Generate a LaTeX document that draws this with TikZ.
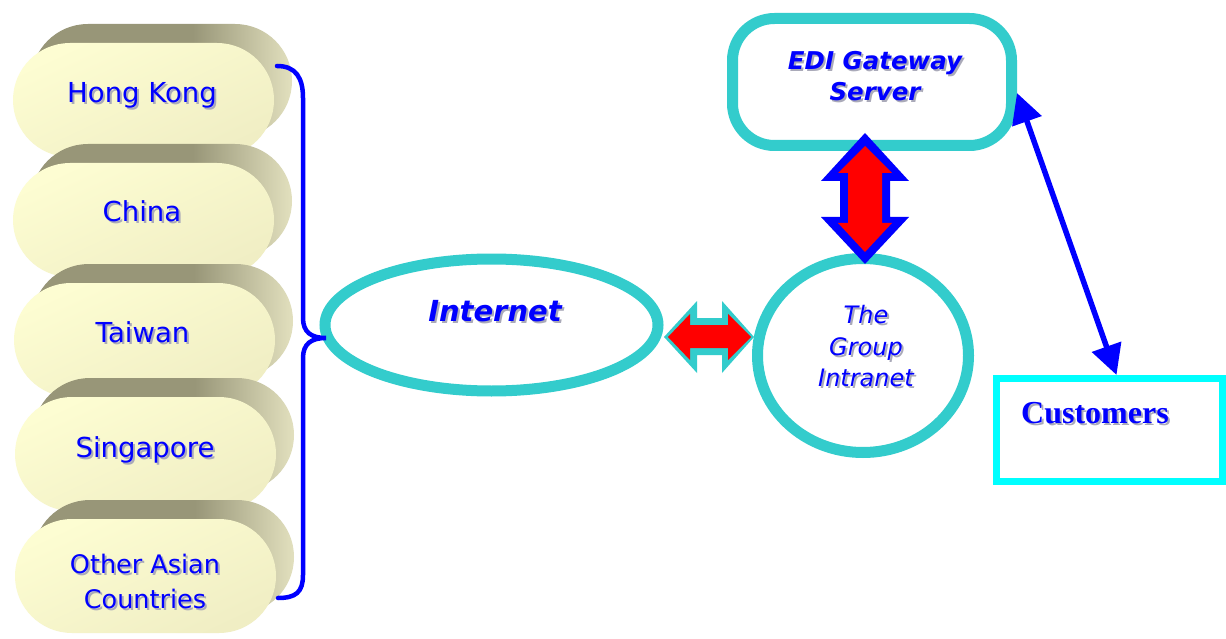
\documentclass[tikz,border=0pt]{standalone}
\usepackage{fontspec}
\usetikzlibrary{shapes.geometric,shapes.misc,arrows.meta,calc}
\newfontfamily\tah{DejaVu Sans}
\newfontfamily\custfont{Liberation Serif}
\definecolor{teal1}{RGB}{51,204,204}
\definecolor{aqua}{RGB}{0,255,255}
\definecolor{pbdark}{RGB}{152,150,120}
\definecolor{pblight}{RGB}{226,224,190}
\definecolor{pfA}{RGB}{253,253,210}
\definecolor{pfB}{RGB}{240,238,196}
\definecolor{tshadow}{RGB}{170,170,185}
\definecolor{tblue}{RGB}{0,0,255}
\definecolor{tred}{RGB}{255,0,0}
\pgfdeclarehorizontalshading{pillback}{100bp}{color(0bp)=(pbdark); color(25bp)=(pbdark); color(56bp)=(pbdark); color(75bp)=(pblight); color(100bp)=(pblight)}
\newcommand\txtshadow[1]{\leavevmode\rlap{\kern2pt\raisebox{-2pt}{\textcolor{tshadow}{#1}}}#1}
\begin{document}
\begin{tikzpicture}[x=1pt,y=-1pt,
  pillfront/.style={rounded rectangle, minimum width=261pt, minimum height=114pt, inner sep=0pt,
    top color=pfA, bottom color=pfB, shading angle=25},
  pillback/.style={rounded rectangle, minimum width=261pt, minimum height=114pt, inner sep=0pt,
    shade, shading=pillback},
  pilltext/.style={font=\tah\fontsize{27.5}{33}\selectfont, text=tblue, inner sep=0pt, anchor=base},
  tealline/.style={draw=teal1, line width=11pt, fill=white},
  brace/.style={draw=tblue, line width=4.5pt, line cap=round},
  linkarrow/.style={draw=tblue, line width=5.5pt, {Triangle[length=30pt,width=30pt]}-{Triangle[length=30pt,width=30pt]}}
]
\useasboundingbox (0,0) rectangle (1226,639);
\fill[white] (0,0) rectangle (1226,639);

% pills
\node[pillback] (hkb) at (161.5,81) {};
\node[pillfront] (hk) at (143.5,100) {};
\node[pillback] (cnb) at (161.5,201) {};
\node[pillfront] (cn) at (143.5,220) {};
\node[pillback] (twb) at (162.5,321) {};
\node[pillfront] (tw) at (144.5,340) {};
\node[pillback] (sgb) at (163.5,435) {};
\node[pillfront] (sg) at (145.5,454) {};
\node[pillback] (othb) at (163.5,557) {};
\node[pillfront] (oth) at (145.5,576) {};

\node[pilltext] (hkt) at (142,103) {\txtshadow{Hong Kong}};
\node[pilltext] (cnt) at (142,222) {\txtshadow{China}};
\node[pilltext] (twt) at (142.5,342) {\txtshadow{Taiwan}};
\node[pilltext] (sgt) at (145,457) {\txtshadow{Singapore}};
\node[font=\tah\fontsize{25.5}{35}\selectfont, text=tblue, inner sep=0pt, anchor=south, align=center]
  (otht) at (145,611) {\txtshadow{Other Asian}\\\txtshadow{Countries}};

% main nodes
\node[tealline, ellipse, minimum width=333pt, minimum height=132pt, inner sep=0pt] (inet) at (491.5,325) {};
\node[font=\tah\bfseries\itshape\fontsize{29}{34}\selectfont, text=tblue, inner sep=0pt, anchor=base]
  (inett) at (495,321) {\txtshadow{Internet}};

\node[tealline, ellipse, minimum width=211pt, minimum height=194pt, inner sep=0pt] (intra) at (863,355.5) {};
\node[font=\tah\itshape\fontsize{24}{31.5}\selectfont, text=tblue, inner sep=0pt, align=center]
  (intrat) at (866,347.5) {\txtshadow{The}\\\txtshadow{Group}\\\txtshadow{Intranet}};

\node[tealline, rectangle, rounded corners=42pt, minimum width=279pt, minimum height=127pt, inner sep=0pt] (edi) at (872,82) {};
\node[font=\tah\bfseries\itshape\fontsize{24.5}{31}\selectfont, text=tblue, inner sep=0pt, align=center]
  (edit) at (875,77.5) {\txtshadow{EDI Gateway}\\\txtshadow{Server}};

\node[draw=aqua, line width=7pt, fill=white, rectangle, minimum width=226pt, minimum height=103pt, inner sep=0pt] (cust) at (1109.5,430) {};
\node[font=\custfont\bfseries\fontsize{32}{38}\selectfont, text=tblue, inner sep=0pt, anchor=base west]
  (custt) at (1021,423) {\txtshadow{Customers}};

% brace
\coordinate (bt) at (277,66);
\coordinate (bb) at (278,598);
\coordinate (btip) at (326,338);
\draw[brace] (bt) .. controls (296,66) and (303,78) .. (303,98) -- (303,318)
  .. controls (303,332) and (311,338) .. (btip)
  .. controls (311,338) and (303,344) .. (303,358) -- (303,575)
  .. controls (303,592) and (296,598) .. (bb);

% block arrows
\fill[tblue] (865,133) -- (909,181) -- (890,181) -- (890,217) -- (909,217) -- (865,264)
  -- (821,217) -- (840,217) -- (840,181) -- (821,181) -- cycle;
\fill[tred] (865,146) -- (892,173) -- (882,173) -- (882,223) -- (892,223) -- (865,252)
  -- (838,223) -- (848,223) -- (848,173) -- (838,173) -- cycle;

\fill[teal1] (664,337) -- (697,301) -- (697,318) -- (722,318) -- (722,301) -- (754,337)
  -- (722,373) -- (722,355) -- (697,355) -- (697,373) -- cycle;
\fill[tred] (668,337) -- (690,314) -- (690,325) -- (728,325) -- (728,314) -- (751,337)
  -- (728,360) -- (728,348) -- (690,348) -- (690,360) -- cycle;

% customers link
\draw[linkarrow] ([yshift=-11pt]edi.east) -- ([xshift=7pt]cust.north);
\end{tikzpicture}
\end{document}
